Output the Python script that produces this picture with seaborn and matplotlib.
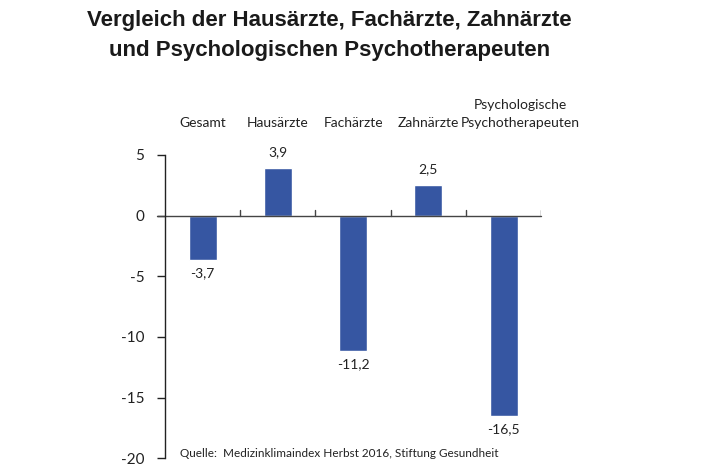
import matplotlib
matplotlib.use("Agg")
import matplotlib.pyplot as plt
import matplotlib.transforms as mtransforms
import seaborn as sns
import pandas as pd

categories = ["Gesamt", "Hausärzte", "Fachärzte", "Zahnärzte", "Psychologische\nPsychotherapeuten"]
values = [-3.7, 3.9, -11.2, 2.5, -16.5]
value_labels = ["-3,7", "3,9", "-11,2", "2,5", "-16,5"]
y_ticks = [5, 0, -5, -10, -15, -20]
title = "Vergleich der Hausärzte, Fachärzte, Zahnärzte\nund Psychologischen Psychotherapeuten"
source = "Quelle:  Medizinklimaindex Herbst 2016, Stiftung Gesundheit"

sns.set_theme(style="white")
plt.rcParams["font.family"] = ["Lato", "DejaVu Sans"]

df = pd.DataFrame({"cat": categories, "val": values})

fig = plt.figure(figsize=(7.02, 4.68), dpi=100)
ax = fig.add_axes([0.235, 0.021, 0.536, 0.648])

sns.barplot(data=df, x="cat", y="val", color="#3656a2", width=0.37,
            saturation=1, ax=ax, order=categories)

ax.set_ylim(-20, 5)
ax.set_xlim(-0.5, len(categories) - 0.5)
ax.set_yticks(y_ticks)
ax.set_yticklabels([str(t) for t in y_ticks], fontsize=11, color="#222222")
ax.tick_params(axis="y", direction="out", length=6, width=1, color="#222222", pad=9, left=True)
ax.set_xlabel("")
ax.set_ylabel("")

ax.xaxis.set_ticks_position("top")
ax.tick_params(axis="x", length=0, pad=19, labelsize=10, colors="#222222")
xlabels = ax.get_xticklabels()
for lbl in xlabels:
    lbl.set_linespacing(1.6)
# last label sits shifted to the right in the reference
xlabels[-1].set_transform(xlabels[-1].get_transform() +
                          mtransforms.ScaledTranslation(17 / 100, 0, fig.dpi_scale_trans))

for s in ["top", "right", "bottom"]:
    ax.spines[s].set_visible(False)
ax.spines["left"].set_color("#222222")
ax.spines["left"].set_linewidth(1)

# zero line and category separators
ax.axhline(0, xmin=-0.02, color="#444444", lw=1, zorder=1, clip_on=False)
for i in range(len(categories)):
    xsep = i + 0.5
    ax.plot([xsep, xsep], [0, 0.45], color="#444444", lw=1, zorder=1)

for i, (v, t) in enumerate(zip(values, value_labels)):
    if v >= 0:
        ax.annotate(t, (i, v), xytext=(0, 7), textcoords="offset points",
                    ha="center", va="bottom", fontsize=10, color="#222222")
    else:
        ax.annotate(t, (i, v), xytext=(0, -5), textcoords="offset points",
                    ha="center", va="top", fontsize=10, color="#222222")

fig.text(0.469, 0.978, title, ha="center", va="top", fontsize=16,
         fontweight="bold", family=["Liberation Sans", "DejaVu Sans"],
         color="#1a1a1a", linespacing=1.55)
fig.text(0.256, 0.03, source, ha="left", va="center", fontsize=8.5, color="#222222")

fig.savefig("out.png", dpi=100)
